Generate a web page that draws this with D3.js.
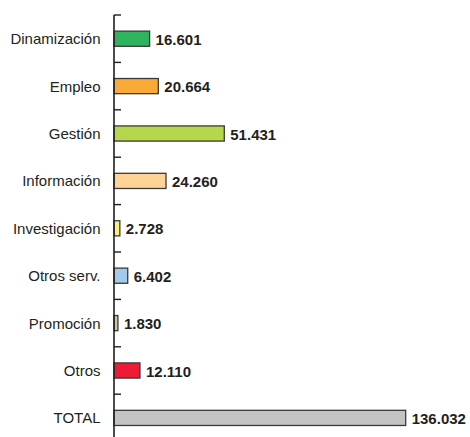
<!DOCTYPE html>
<html>
<head>
<meta charset="utf-8">
<script src="https://cdn.jsdelivr.net/npm/d3@7/dist/d3.min.js"></script>
<style>
  html, body { margin: 0; padding: 0; background: #fff; }
  svg { display: block; }
</style>
</head>
<body>
<svg id="chart" width="470" height="437"></svg>
<script>
const categories = ["Dinamización", "Empleo", "Gestión", "Información", "Investigación", "Otros serv.", "Promoción", "Otros", "TOTAL"];
const values = [16601, 20664, 51431, 24260, 2728, 6402, 1830, 12110, 136032];
const colors = ["#2db45c", "#f9a935", "#b6d64b", "#fdd496", "#fbee79", "#a3c9eb", "#d8c29e", "#ee1b36", "#c3c3c4"];

const svg = d3.select("#chart");
const ink = "#231f20";
const axisX = 114;

const x = d3.scaleLinear().domain([0, 136032]).range([axisX, 405.7]);
const y = d3.scaleBand().domain(categories).range([15, 441.6]).paddingInner(0.68).paddingOuter(0.34);

const locale = d3.formatLocale({ decimal: ",", thousands: ".", grouping: [3], currency: ["", "€"] });
const fmt = locale.format(",d");

const data = categories.map((c, i) => ({ cat: c, val: values[i], color: colors[i] }));

// bars
svg.selectAll("rect.bar").data(data).join("rect")
  .attr("class", "bar")
  .attr("x", x(0))
  .attr("y", d => y(d.cat))
  .attr("width", d => x(d.val) - x(0))
  .attr("height", y.bandwidth())
  .attr("fill", d => d.color)
  .attr("stroke", "#3a3a3a")
  .attr("stroke-width", 1.3);

// axis line
const step = y.step();
const yTop = y.range()[0];
svg.append("line")
  .attr("x1", axisX).attr("x2", axisX)
  .attr("y1", yTop).attr("y2", y.range()[1])
  .attr("stroke", ink).attr("stroke-width", 1.6);

// ticks at band boundaries
svg.selectAll("line.tick").data(categories).join("line")
  .attr("class", "tick")
  .attr("x1", axisX).attr("x2", axisX + 7)
  .attr("y1", (d) => y(d) - step * 0.34)
  .attr("y2", (d) => y(d) - step * 0.34)
  .attr("stroke", ink).attr("stroke-width", 1.4);

// category labels
svg.selectAll("text.cat").data(data).join("text")
  .attr("class", "cat")
  .attr("x", 100.5)
  .attr("y", d => y(d.cat) + y.bandwidth() / 2)
  .attr("dy", "0.36em")
  .attr("text-anchor", "end")
  .attr("font-family", "'Liberation Sans', Arial, sans-serif")
  .attr("font-size", "15px")
  .attr("fill", ink)
  .text(d => d.cat);

// value labels
svg.selectAll("text.val").data(data).join("text")
  .attr("class", "val")
  .attr("x", d => x(d.val) + 6)
  .attr("y", d => y(d.cat) + y.bandwidth() / 2)
  .attr("dy", "0.4em")
  .attr("font-family", "'Liberation Sans', Arial, sans-serif")
  .attr("font-size", "15px")
  .attr("font-weight", "bold")
  .attr("fill", ink)
  .text(d => fmt(d.val));
</script>
</body>
</html>
